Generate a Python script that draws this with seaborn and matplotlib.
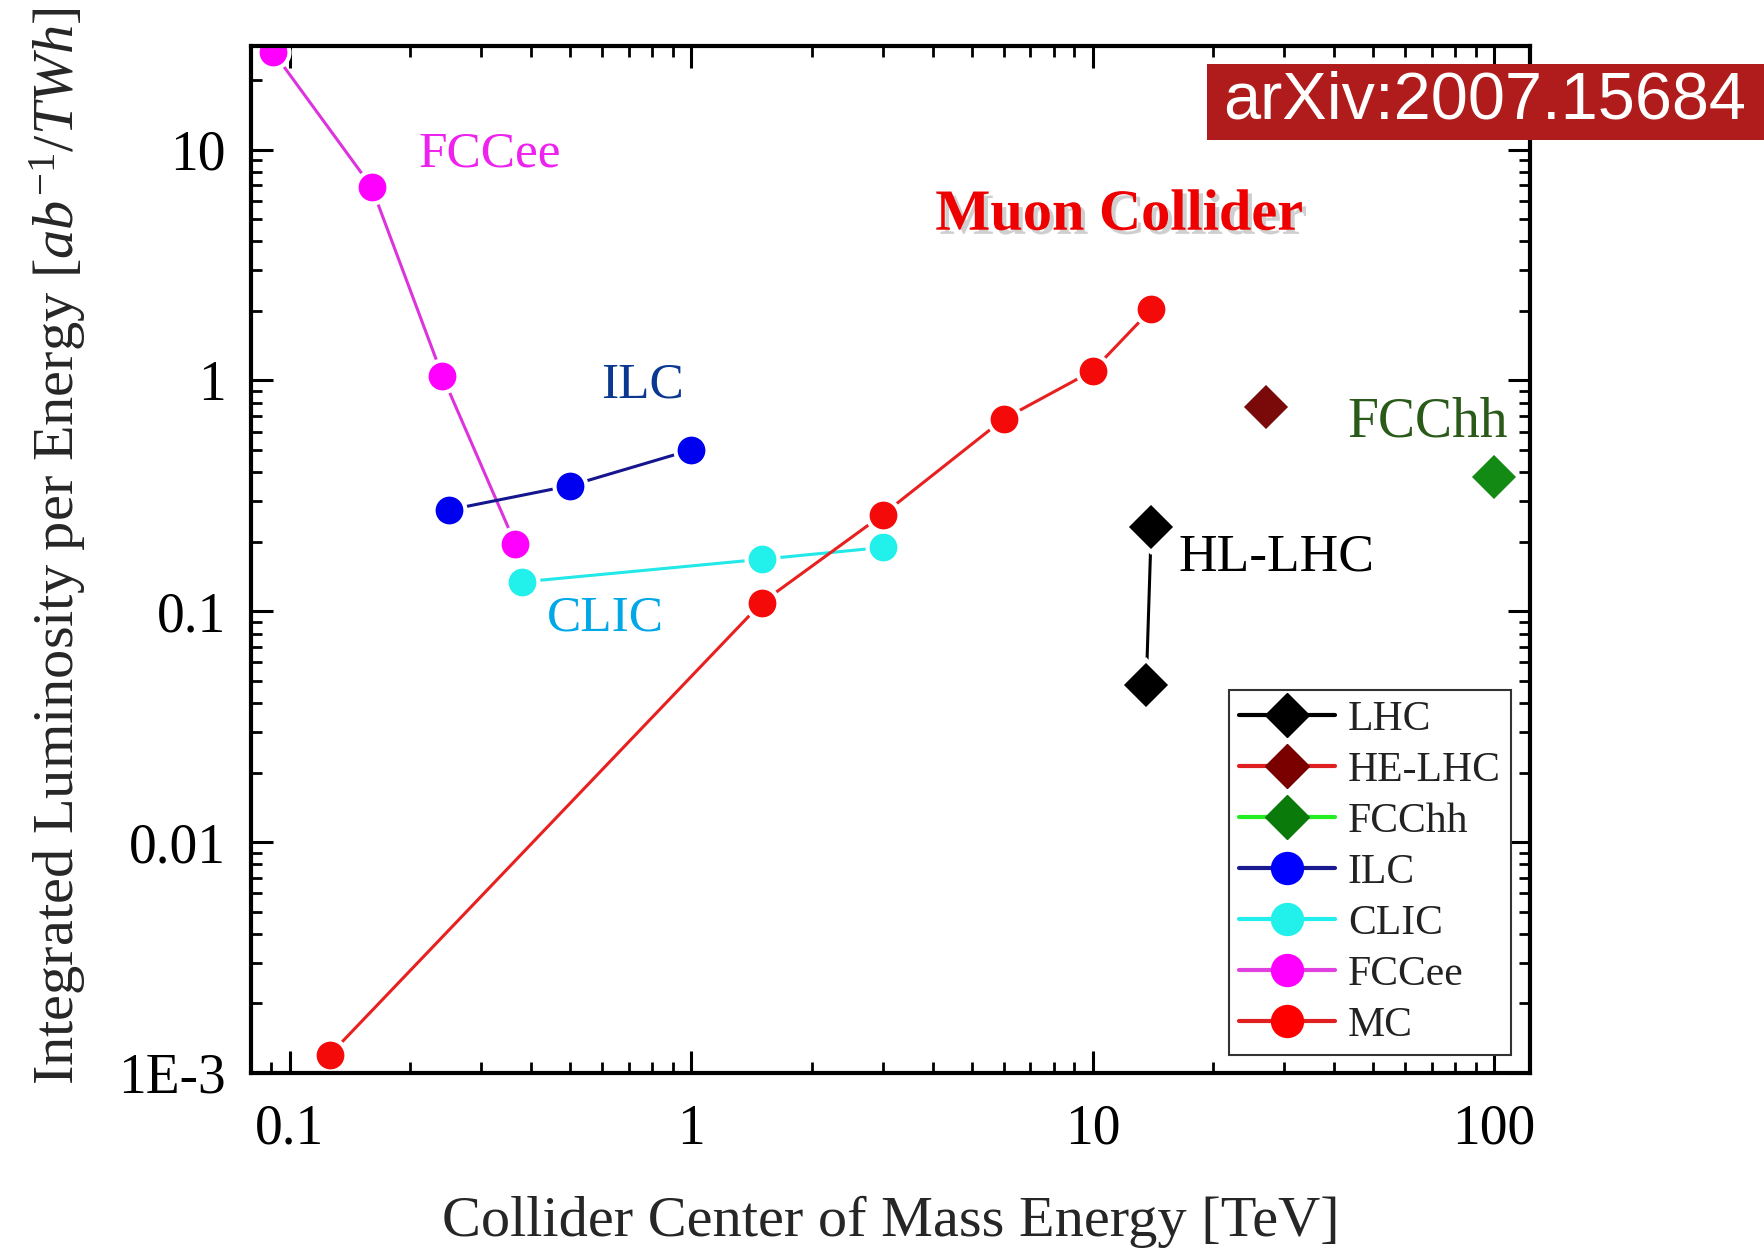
import numpy as np
import pandas as pd
import matplotlib
matplotlib.use("Agg")
import matplotlib.pyplot as plt
import matplotlib.patheffects as pe
from matplotlib.lines import Line2D
from matplotlib.patches import Rectangle
from matplotlib.ticker import LogLocator, NullFormatter
import seaborn as sns

# energies in TeV, luminosity per energy in ab^-1 / TWh
fccee_energy = [0.091, 0.16, 0.24, 0.365]
fccee_lumi = [26.5, 6.9, 1.05, 0.196]

ilc_energy = [0.25, 0.5, 1.0]
ilc_lumi = [0.275, 0.35, 0.50]

clic_energy = [0.38, 1.5, 3.0]
clic_lumi = [0.134, 0.168, 0.189]

mc_energy = [0.126, 1.5, 3.0, 6.0, 10.0, 14.0]
mc_lumi = [0.0012, 0.109, 0.262, 0.68, 1.10, 2.03]

lhc_energy = [13.6, 14.0]
lhc_lumi = [0.0477, 0.232]

helhc_energy = [27.0]
helhc_lumi = [0.77]

fcchh_energy = [100.0]
fcchh_lumi = [0.38]

legend_names = ["LHC", "HE-LHC", "FCChh", "ILC", "CLIC", "FCCee", "MC"]

sns.set_theme(style="ticks")
plt.rcParams['font.family'] = ['Liberation Serif', 'DejaVu Serif']
plt.rcParams['mathtext.fontset'] = 'custom'
plt.rcParams['mathtext.rm'] = 'Liberation Serif'
plt.rcParams['mathtext.it'] = 'Liberation Serif:italic'

fig = plt.figure(figsize=(17.65, 12.52), dpi=100)
ax = fig.add_axes([0.142, 0.143, 0.725, 0.820])

circ = dict(marker='o', markersize=23, markeredgecolor='white', markeredgewidth=3,
            linewidth=2.2, estimator=None, sort=False, legend=False, ax=ax)
diam = dict(marker='D', markersize=25, markeredgecolor='white', markeredgewidth=3,
            linewidth=2.2, estimator=None, sort=False, legend=False, ax=ax)

sns.lineplot(x=fccee_energy, y=fccee_lumi, color='#dd33dd', markerfacecolor='#ff00ff', **circ)
sns.lineplot(x=ilc_energy, y=ilc_lumi, color='#15158f', markerfacecolor='#0000f0', **circ)
sns.lineplot(x=clic_energy, y=clic_lumi, color='#22e8e8', markerfacecolor='#22f0ea', **circ)
sns.lineplot(x=mc_energy, y=mc_lumi, color='#e82020', markerfacecolor='#f50a0a', **circ)
sns.lineplot(x=lhc_energy, y=lhc_lumi, color='black', markerfacecolor='black', **diam)
sns.lineplot(x=helhc_energy, y=helhc_lumi, color='#7a0a0a', markerfacecolor='#7a0a0a', **diam)
sns.lineplot(x=fcchh_energy, y=fcchh_lumi, color='#138a13', markerfacecolor='#138a13', **diam)

ax.set_xscale('log')
ax.set_yscale('log')
ax.set_xlim(0.08, 123)
ax.set_ylim(1e-3, 28)

ax.set_xticks([0.1, 1, 10, 100], ['0.1', '1', '10', '100'])
ax.set_yticks([1e-3, 1e-2, 0.1, 1, 10], ['1E-3', '0.01', '0.1', '1', '10'])
ax.xaxis.set_minor_locator(LogLocator(base=10, subs=np.arange(2, 10)))
ax.yaxis.set_minor_locator(LogLocator(base=10, subs=np.arange(2, 10)))
ax.xaxis.set_minor_formatter(NullFormatter())
ax.yaxis.set_minor_formatter(NullFormatter())

ax.tick_params(which='both', direction='in', top=True, right=True, colors='black')
ax.tick_params(which='major', length=16, width=2.2, labelsize=40)
ax.tick_params(which='minor', length=8, width=2.0)
ax.tick_params(axis='x', which='major', pad=22)
ax.tick_params(axis='y', which='major', pad=18)
for s in ax.spines.values():
    s.set_linewidth(3)
    s.set_color('black')

ax.set_xlabel('Collider Center of Mass Energy [TeV]', fontsize=42)
ax.set_ylabel(r'Integrated Luminosity per Energy [$ab^{-1}/TWh$]', fontsize=42)
ax.xaxis.set_label_coords(0.5, -0.12)
ax.yaxis.set_label_coords(-0.127, 0.513)

# series labels
ax.text(0.187, 0.895, 'FCCee', color='#ee22ee', fontsize=37, ha='center', va='center', transform=ax.transAxes)
ax.text(0.306, 0.670, 'ILC', color='#0a3890', fontsize=37, ha='center', va='center', transform=ax.transAxes)
ax.text(0.277, 0.443, 'CLIC', color='#00a8e8', fontsize=37, ha='center', va='center', transform=ax.transAxes)
ax.text(0.679, 0.835, 'Muon Collider', color='#ee0000', fontsize=42, fontweight='bold',
        ha='center', va='center', transform=ax.transAxes,
        path_effects=[pe.withSimplePatchShadow(offset=(3, -3), shadow_rgbFace='#888888', alpha=0.4)])
ax.text(0.920, 0.634, 'FCChh', color='#2a5a1a', fontsize=40, ha='center', va='center', transform=ax.transAxes)
ax.text(0.802, 0.502, 'HL-LHC', color='black', fontsize=38.5, ha='center', va='center', transform=ax.transAxes)

# legend
leg_line = ['black', '#e02020', '#22ee22', '#1a1a90', '#22eeee', '#e040e0', '#e02020']
leg_face = ['black', '#7a0000', '#0a7a0a', '#0000ff', '#22f0ea', '#ff00ff', '#ff0000']
leg_mark = ['D', 'D', 'D', 'o', 'o', 'o', 'o']
handles = []
for name, lc, fc, m in zip(legend_names, leg_line, leg_face, leg_mark):
    ms = 22 if m == 'D' else 23
    handles.append(Line2D([0], [0], color=lc, linewidth=3, marker=m, markersize=ms,
                          markerfacecolor=fc, markeredgecolor=fc, label=name))
leg = ax.legend(handles=handles, loc='lower right', bbox_to_anchor=(0.985, 0.0175),
                borderaxespad=0, fontsize=30, handlelength=2.3, handletextpad=0.3,
                labelspacing=0.3, borderpad=0.25, fancybox=False, framealpha=1,
                edgecolor='#333333')
leg.get_frame().set_linewidth(1.5)
for t in leg.get_texts():
    t.set_color('#222222')

# arXiv badge
fig.add_artist(Rectangle((0.684, 0.888), 0.316, 0.061, transform=fig.transFigure,
                         facecolor='#b01c1c', edgecolor='none', zorder=10))
fig.text(0.841, 0.919, 'arXiv:2007.15684', color='white', fontsize=48,
         family=['Liberation Sans', 'DejaVu Sans'], ha='center', va='center', zorder=11)

fig.savefig('out.png', dpi=100)
